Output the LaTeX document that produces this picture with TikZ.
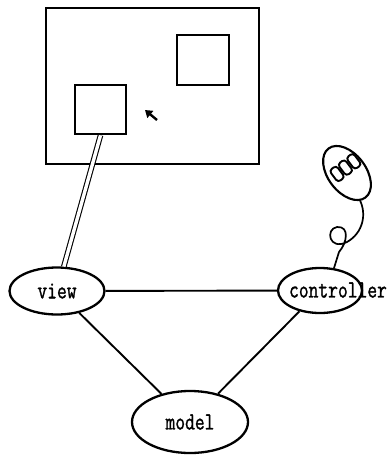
\documentclass[tikz,border=0pt]{standalone}
\usepackage{fontspec}
\usepackage{tikz}
\usetikzlibrary{shapes.geometric,arrows.meta}

\newfontfamily\typefont{Latin Modern Mono}[FakeBold=1.4]
\newcommand{\tall}[1]{\scalebox{1}[1.3]{#1}}

\tikzset{
  part/.style={draw,ellipse,line width=2.3pt,inner sep=0pt},
  win/.style={draw,line width=2.6pt,inner sep=0pt},
  link/.style={line width=1.9pt},
  lbl/.style={font=\typefont\fontsize{19}{19}\selectfont},
}

\begin{document}
\begin{tikzpicture}[x=1pt,y=-1pt]
\useasboundingbox (0,0) rectangle (390,455);
% display with two windows and the pointer
\draw[line width=2.6pt] (46,8) rectangle (259,164);
\node[win,minimum width=51pt,minimum height=49pt] (winA) at (100.5,109.5) {};
\node[win,minimum width=52pt,minimum height=50pt] (winB) at (203,60) {};
\coordinate (ptrA) at (157,120);
\coordinate (ptrB) at (145,110);
\draw[line width=2.4pt,-{Triangle[length=7pt,width=9pt]}] (ptrA) -- (ptrB);

% model, view, controller
\node[part,lbl,minimum width=95pt,minimum height=47pt] (view) at (57,291) {\tall{view}};
\node[part,lbl,minimum width=116pt,minimum height=62pt] (model) at (190,422) {\tall{model}};
\node[part,minimum width=84pt,minimum height=45pt] (ctrl) at (320,290.5) {};
\node[lbl] (ctrltext) at (338,290) {\tall{controller}};

\draw[link] (view) -- (ctrl);
\draw[link] (view) -- (model);
\draw[link] (ctrl) -- (model);
\draw[double,double distance=3.4pt,line width=1.1pt] (winA.south) -- (view);

% mouse on its cord
\begin{scope}[shift={(347,173)},rotate=-53]
  \draw[line width=2.1pt] (0,0) ellipse [x radius=30.7pt,y radius=19pt];
  \foreach \b in {-12.5,-2,8.5}
    \draw[line width=1.9pt,rounded corners=3.2pt] (-12.5,\b-4.3) rectangle ++(14.5,8.6);
  \coordinate (tail) at (29,6);
\end{scope}
\draw[line width=1.7pt] (tail) .. controls (367,214) and (363,233) .. (347,242)
  .. controls (329,251) and (325,229) .. (337,227)
  .. controls (350,226) and (347,243) .. (339,252) -- (ctrl.58);
\end{tikzpicture}
\end{document}
